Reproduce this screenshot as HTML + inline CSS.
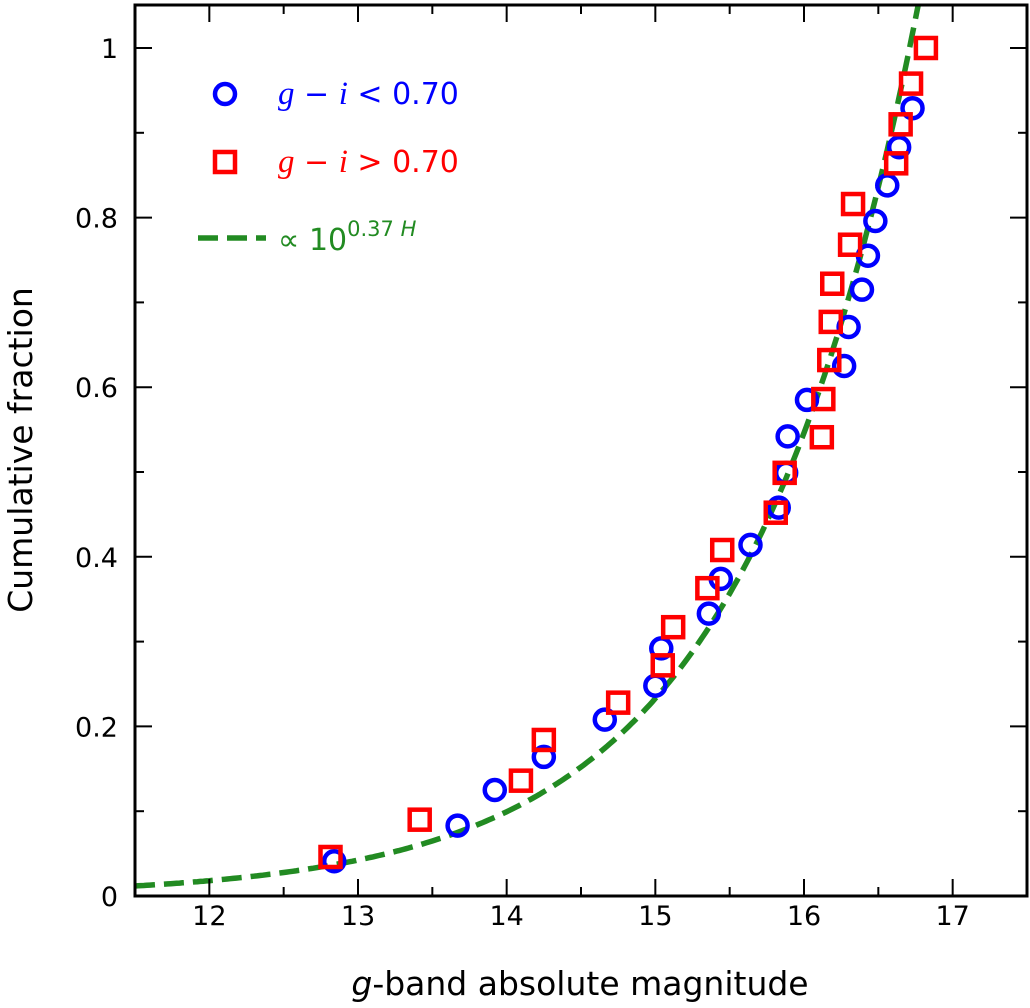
<!DOCTYPE html>
<html><head><meta charset="utf-8"><style>
body{margin:0;background:#fff}
svg text{font-family:"DejaVu Sans","Liberation Sans",sans-serif}
</style></head><body>
<svg id="chart" width="1030" height="1003" viewBox="0 0 1030 1003" xmlns="http://www.w3.org/2000/svg">
</svg>
<script>
const xTicks=[12,13,14,15,16,17];
const yTicks=[0,0.2,0.4,0.6,0.8,1];
const yTickLabels=["0","0.2","0.4","0.6","0.8","1"];
const blueX=[12.84,13.67,13.92,14.25,14.66,15.0,15.04,15.36,15.44,15.64,15.83,15.88,15.89,16.02,16.27,16.3,16.39,16.43,16.48,16.56,16.64,16.73];
const blueY=[0.041,0.083,0.125,0.164,0.208,0.248,0.292,0.333,0.374,0.414,0.458,0.499,0.542,0.585,0.625,0.671,0.715,0.755,0.796,0.838,0.883,0.929];
const redX=[12.815,13.415,14.096,14.25,14.75,15.05,15.12,15.35,15.45,15.81,15.87,16.12,16.13,16.17,16.18,16.19,16.31,16.33,16.62,16.65,16.72,16.82];
const redY=[0.046,0.09,0.136,0.184,0.228,0.272,0.317,0.363,0.408,0.452,0.499,0.541,0.586,0.632,0.677,0.722,0.768,0.816,0.864,0.91,0.958,1.0];
const fitExp=0.37, fitH1=16.71;

const L=135,R=1027,T=5,B=896, xmin=11.5,xmax=17.5,ymin=0,ymax=1.0507;
const sx=v=>L+(v-xmin)/(xmax-xmin)*(R-L);
const sy=v=>B-(v-ymin)/(ymax-ymin)*(B-T);
const svg=document.getElementById('chart');
const NS="http://www.w3.org/2000/svg";
function mk(tag,attrs,parent){const e=document.createElementNS(NS,tag);for(const k in attrs)e.setAttribute(k,attrs[k]);(parent||svg).appendChild(e);return e;}

const clip=mk('clipPath',{id:'pc'});mk('rect',{x:L,y:T,width:R-L,height:B-T},clip);
let d='';for(let h=xmin;h<=17.0;h+=0.02){const y=Math.pow(10,fitExp*(h-fitH1));d+=(d?'L':'M')+sx(h).toFixed(1)+','+sy(y).toFixed(1);}
const fit=mk('path',{d:d,fill:'none',stroke:'#228B22','stroke-width':5.5,'stroke-dasharray':'20,9','clip-path':'url(#pc)'});



blueX.forEach((x,i)=>{const c=mk('circle',{cx:sx(x),cy:sy(blueY[i]),r:10,fill:'none',stroke:'#0000ff','stroke-width':4.5});

});
redX.forEach((x,i)=>{const r=mk('rect',{x:sx(x)-10,y:sy(redY[i])-10,width:20,height:20,fill:'none',stroke:'#ff0000','stroke-width':4.5});

});

const fr=mk('rect',{x:L,y:T,width:R-L,height:B-T,fill:'none',stroke:'#000','stroke-width':3});


for(let v=11.5;v<=17.5001;v+=0.5){const x=sx(v);const maj=Math.abs(v-Math.round(v))<1e-6;const len=maj?17:9;
mk('line',{x1:x,x2:x,y1:B,y2:B-len,stroke:'#000','stroke-width':2});mk('line',{x1:x,x2:x,y1:T,y2:T+len,stroke:'#000','stroke-width':2});}
for(let v=0;v<=1.0001;v+=0.1){const y=sy(v);const maj=Math.round(v*10)%2===0;const len=maj?17:9;
mk('line',{x1:L,x2:L+len,y1:y,y2:y,stroke:'#000','stroke-width':2});mk('line',{x1:R,x2:R-len,y1:y,y2:y,stroke:'#000','stroke-width':2});}
xTicks.forEach(v=>{const t=mk('text',{x:sx(v),y:B+29,'text-anchor':'middle','font-size':27});t.textContent=v;

});
yTicks.forEach((v,i)=>{const t=mk('text',{x:L-17,y:sy(v)+10,'text-anchor':'end','font-size':27});t.textContent=yTickLabels[i];

});
</script>
<svg style="position:absolute;left:0;top:0" width="1030" height="1003" xmlns="http://www.w3.org/2000/svg">
<text x="580" y="995" text-anchor="middle" font-size="33"><tspan font-style="italic">g</tspan>-band absolute magnitude</text>
<text transform="translate(32,450) rotate(-90)" text-anchor="middle" font-size="33">Cumulative fraction</text>
<g>
<circle cx="225" cy="94" r="10" fill="none" stroke="#0000ff" stroke-width="4.5"/>
<text x="278" y="104" font-size="30" fill="#0000ff"><tspan font-style="italic" font-family="Liberation Serif" font-size="33">g</tspan> − <tspan font-style="italic" font-family="Liberation Serif" font-size="33">i</tspan> &lt; 0.70</text>
<rect x="215" y="152" width="20" height="20" fill="none" stroke="#ff0000" stroke-width="4.5"/>
<text x="278" y="172" font-size="30" fill="#ff0000"><tspan font-style="italic" font-family="Liberation Serif" font-size="33">g</tspan> − <tspan font-style="italic" font-family="Liberation Serif" font-size="33">i</tspan> &gt; 0.70</text>
<line x1="198" y1="238" x2="266" y2="238" stroke="#228B22" stroke-width="5.5" stroke-dasharray="20,9"/>
<text x="278" y="250" font-size="30" fill="#228B22">∝ 10<tspan dy="-14" font-size="21">0.37 <tspan font-style="italic">H</tspan></tspan></text>
</g>
</svg>
</body></html>
